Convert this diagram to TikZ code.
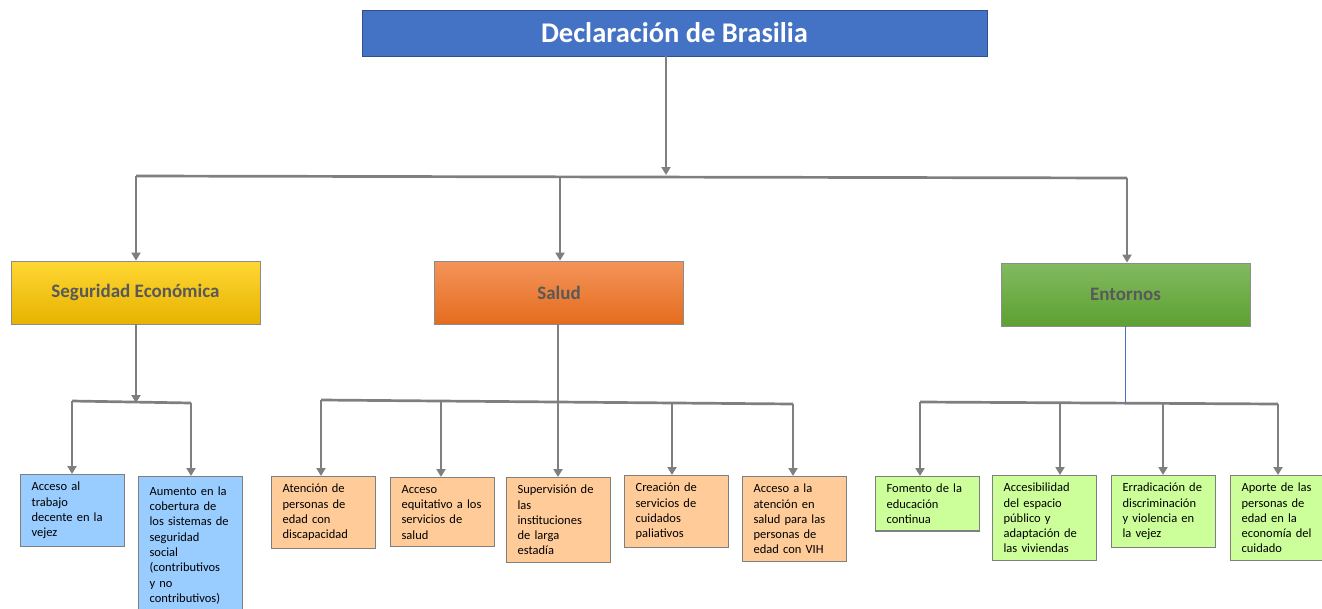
\documentclass[tikz,border=0pt]{standalone}
\usepackage{fontspec}
\setmainfont{Carlito}
\usetikzlibrary{arrows.meta}
\definecolor{azul}{HTML}{4472C4}
\definecolor{gris}{HTML}{7F7F7F}
\definecolor{celeste}{HTML}{99CCFF}
\definecolor{durazno}{HTML}{FFCC99}
\definecolor{lima}{HTML}{CCFF99}

\begin{document}
\begin{tikzpicture}[x=1pt,y=-1pt,
	flecha/.style={draw=gris,line width=2.7pt,-{Triangle[width=9pt,length=8pt]}},
	linea/.style={draw=gris,line width=2.7pt},
	rama/.style={draw=gris!90,line width=0.8pt,minimum width=249pt,minimum height=63pt,
		font=\fontsize{19}{23}\selectfont\bfseries,text=black!65},
	hoja/.style={draw=gris,line width=1.2pt,anchor=north west,align=left,text width=82pt,
		inner xsep=11pt,inner ysep=7.5pt,font=\fontsize{12.5}{15.3}\selectfont}]
		\useasboundingbox (0,0) rectangle (1322,608);
		% titulo y ramas
		\node[draw=azul!70!black,fill=azul,minimum width=625pt,minimum height=46pt,text=white,
			font=\fontsize{28.5}{33}\selectfont\bfseries] (titulo) at (674.5,33) {Declaración de Brasilia};
		\node[rama,top color=yellow!60!orange!80,middle color={rgb,255:red,255;green,192;blue,0},
			bottom color={rgb,255:red,230;green,180;blue,0}] (seg) at (135.5,292.5) {Seguridad Económica};
		\node[rama,top color={rgb,255:red,244;green,148;blue,90},bottom color={rgb,255:red,228;green,108;blue,30}] (salud) at (559,292.5) {Salud};
		\node[rama,top color={rgb,255:red,130;green,186;blue,96},bottom color={rgb,255:red,94;green,160;blue,50}] (ent) at (1125.5,294.5) {Entornos};
		% hojas
		\node[hoja,fill=celeste] (trab) at (20,474) {Acceso al\\trabajo\\decente en la\\vejez};
		\node[hoja,fill=celeste,inner ysep=10pt] (cob) at (138,476) {Aumento en la\\cobertura de\\los sistemas de\\seguridad\\social\\(contributivos\\y no\\contributivos)};
		\node[hoja,fill=durazno] (disc) at (271,476) {Atención de\\personas de\\edad con\\discapacidad};
		\node[hoja,fill=durazno] (equi) at (390,477) {Acceso\\equitativo a los\\servicios de\\salud};
		\node[hoja,fill=durazno] (larga) at (506,477) {Supervisión de\\las\\instituciones\\de larga\\estadía};
		\node[hoja,fill=durazno] (pal) at (624,475) {Creación de\\servicios de\\cuidados\\paliativos};
		\node[hoja,fill=durazno] (vih) at (742,476) {Acceso a la\\atención en\\salud para las\\personas de\\edad con VIH};
		\node[hoja,fill=lima] (edu) at (875,476) {Fomento de la\\educación\\continua};
		\node[hoja,fill=lima] (esp) at (992,475) {Accesibilidad\\del espacio\\público y\\adaptación de\\las viviendas};
		\node[hoja,fill=lima] (viol) at (1111,475) {Erradicación de\\discriminación\\y violencia en\\la vejez};
		\node[hoja,fill=lima] (cuid) at (1230,475) {Aporte de las\\personas de\\edad en la\\economía del\\cuidado};
		% primer nivel
		\coordinate (b0) at (666,175);
		\coordinate (b1) at (136,176);
		\coordinate (b2) at (560,177);
		\coordinate (b3) at (1127,178);
		\draw[linea] (b1) -- (b3);
		\draw[flecha] (titulo.south -| b0) -- (b0);
		\draw[flecha] (b1) -- (b1 |- seg.north);
		\draw[flecha] (b2) -- (b2 |- salud.north);
		\draw[flecha] (b3) -- (b3 |- ent.north);
		% seguridad economica
		\coordinate (s0) at (136,403);
		\coordinate (s1) at (72,401);
		\coordinate (s2) at (191,403);
		\draw[linea] (s1) -- (s2);
		\draw[flecha] (seg.south -| s0) -- (s0);
		\draw[flecha] (s1) -- (s1 |- trab.north);
		\draw[flecha] (s2) -- (s2 |- cob.north);
		% salud
		\coordinate (h1) at (321,400);
		\coordinate (h2) at (441,401);
		\coordinate (h3) at (558,402);
		\coordinate (h4) at (672,403);
		\coordinate (h5) at (793,404);
		\draw[linea] (h1) -- (h5);
		\draw[linea] (salud.south -| h3) -- (h3);
		\draw[flecha] (h1) -- (h1 |- disc.north);
		\draw[flecha] (h2) -- (h2 |- equi.north);
		\draw[flecha] (h3) -- (h3 |- larga.north);
		\draw[flecha] (h4) -- (h4 |- pal.north);
		\draw[flecha] (h5) -- (h5 |- vih.north);
		% entornos
		\coordinate (e0) at (1125,403);
		\coordinate (e1) at (920,402);
		\coordinate (e2) at (1060,402);
		\coordinate (e3) at (1163,403);
		\coordinate (e4) at (1278,404);
		\draw[linea] (e1) -- (e4);
		\draw[azul,line width=0.8pt] (ent.south -| e0) -- (e0);
		\draw[flecha] (e1) -- (e1 |- edu.north);
		\draw[flecha] (e2) -- (e2 |- esp.north);
		\draw[flecha] (e3) -- (e3 |- viol.north);
		\draw[flecha] (e4) -- (e4 |- cuid.north);
\end{tikzpicture}
\end{document}
